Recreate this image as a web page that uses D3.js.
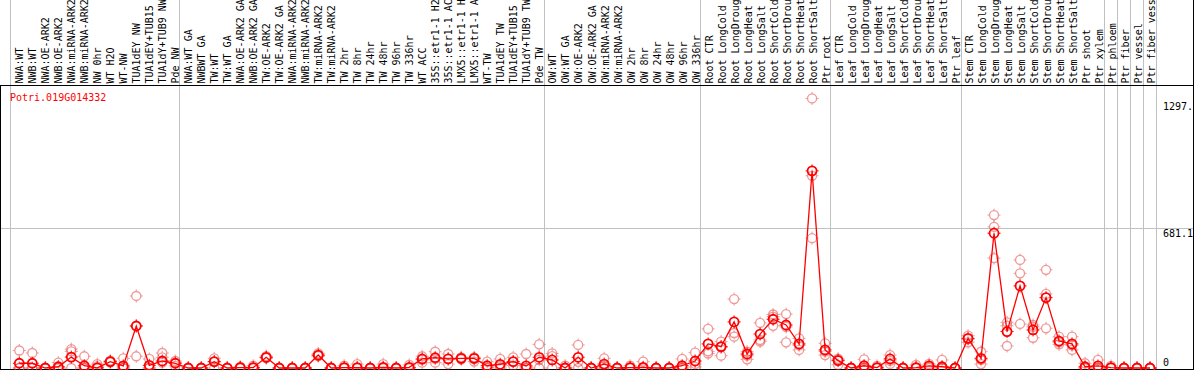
<!DOCTYPE html>
<html>
<head>
<meta charset="utf-8">
<script src="https://cdn.jsdelivr.net/npm/d3@7"></script>
<style>
body { margin: 0; background: #fff; }
svg { display: block; }
text { font-family: "DejaVu Sans Mono", monospace; font-size: 10px; }
</style>
</head>
<body>
<div id="chart"></div>
<script>
// sample labels, in column order
var labels = [
  "NWA:WT","NWB:WT","NWA:OE-ARK2","NWB:OE-ARK2","NWA:miRNA-ARK2","NWB:miRNA-ARK2","NW 0hr","WT H2O","WT-NW",
  "TUA1dEY NW","TUA1dEY+TUB15","TUA1dY+TUB9 NW","Pde NW",
  "NWA:WT GA","NWBWT GA","TW:WT","TW:WT GA","NWA:OE-ARK2 GA","NWB:OE-ARK2 GA","TW:OE-ARK2","TW:OE-ARK2 GA",
  "NWA:miRNA-ARK2","NWB:miRNA-ARK2","TW:miRNA-ARK2","TW:miRNA-ARK2","TW 2hr","TW 8hr","TW 24hr","TW 48hr",
  "TW 96hr","TW 336hr","WT ACC","35S::etr1-1 H2O","35S::etr1-1 ACC","LMX5::etr1-1 H2O","LMX5::etr1-1 ACC",
  "WT-TW","TUA1dEY TW","TUA1dEY+TUB15","TUA1dY+TUB9 TW","Pde TW",
  "OW:WT","OW:WT GA","OW:OE-ARK2","OW:OE-ARK2 GA","OW:miRNA-ARK2","OW:miRNA-ARK2","OW 2hr","OW 8hr","OW 24hr",
  "OW 48hr","OW 96hr","OW 336hr",
  "Root CTR","Root LongCold","Root LongDrought","Root LongHeat","Root LongSalt","Root ShortCold",
  "Root ShortDrought","Root ShortHeat","Root ShortSalt","Ptr root",
  "Leaf CTR","Leaf LongCold","Leaf LongDrought","Leaf LongHeat","Leaf LongSalt","Leaf ShortCold",
  "Leaf ShortDrought","Leaf ShortHeat","Leaf ShortSalt","Ptr leaf",
  "Stem CTR","Stem LongCold","Stem LongDrought","Stem LongHeat","Stem LongSalt","Stem ShortCold",
  "Stem ShortDrought","Stem ShortHeat","Stem ShortSalt","Ptr shoot","Ptr xylem",
  "Ptr phloem","Ptr fiber","Ptr vessel","Ptr fiber vessel"
];
// how many columns in each grid block
var groupSizes = [13, 28, 12, 10, 10, 11, 1, 1, 1, 1];

// mean per column
var means = [
  23,23,0,6,53,11,1,31,10,204,13,34,23,
  0,0,31,0,2,2,52,0,0,0,63,0,2,2,0,3,0,3,44,50,44,47,47,11,18,31,10,52,
  39,0,52,0,19,0,2,3,0,0,11,34,
  117,104,224,68,165,237,209,117,958,88,
  36,0,11,2,44,0,2,10,6,0,
  144,47,655,177,399,185,342,131,117,6,10,
  2,0,0,0
];
// replicates per column
var reps = [
  [85,0,0],[73,0,0],[0,0,0],[26,0,0],[92,81,0],[57,0,0],[19,8,0],[36,30,28],[47,0,0],[350,205,57],[44,0,0],[73,52,26],[34,25,10],
  [0,0,0],[0,0,0],[47,30,0],[0,0,0],[6,0,0],[11,0,0],[58,50,48],[0,0,0],[0,0,0],[0,0,0],[71,60,58],[0,0,0],[11,0,0],[19,0,0],[0,0,0],
  [19,0,0],[0,0,0],[15,0,0],[57,40,26],[79,45,26],[68,45,19],[52,47,42],[52,44,31],[31,2,0],[44,10,0],[52,30,12],[68,0,0],[115,40,0],
  [71,58,0],[11,0,0],[112,30,0],[0,0,0],[47,10,0],[0,0,0],[11,0,0],[31,0,0],[0,0,0],[0,0,0],[44,0,0],[75,20,5],
  [190,81,70],[128,100,60],[335,170,152],[79,60,42],[219,136,128],[260,250,205],[262,200,125],[144,110,88],[1310,934,631],[120,80,63],
  [45,40,15],[0,0,0],[42,0,0],[10,0,0],[63,35,20],[0,0,0],[15,0,0],[20,5,0],[39,0,0],[0,0,0],
  [157,140,125],[79,40,19],[743,686,534],[222,205,107],[525,460,214],[209,200,147],[477,360,193],[152,125,115],[152,110,88],[23,0,0],[39,0,0],
  [10,0,0],[0,0,0],[0,0,0],[0,0,0]
];
var yTicks = [0, 681.1, 1297.5];
var title = "Potri.019G014332";

var W = 1194, H = 370;
var svg = d3.select("#chart").append("svg")
    .attr("width", W).attr("height", H);

var idx = d3.range(labels.length);
// columns for labels / grid
var xb = d3.scaleBand().domain(idx).range([10, 1156]);
// point positions
var xp = d3.scalePoint().domain(idx).range([19.3, 1150]);
var y = d3.scaleLinear().domain([0, 1297.5]).range([368, 101]);

// group boundaries
var bounds = [0];
groupSizes.forEach(function(n){ bounds.push(bounds[bounds.length-1] + n); });
svg.append("g").selectAll("line")
    .data(bounds)
    .enter().append("line")
    .attr("x1", function(k){ return Math.round(k < labels.length ? xb(k) : xb.range()[1]) + 0.5; })
    .attr("x2", function(k){ return Math.round(k < labels.length ? xb(k) : xb.range()[1]) + 0.5; })
    .attr("y1", 0).attr("y2", H)
    .attr("stroke", "#c0c0c0");

// horizontal grid
svg.append("g").selectAll("line")
    .data(yTicks.filter(function(v){ return v > 0 && v < 1000; }))
    .enter().append("line")
    .attr("x1", 0).attr("x2", W)
    .attr("y1", function(v){ return Math.round(y(v)) + 0.5; })
    .attr("y2", function(v){ return Math.round(y(v)) + 0.5; })
    .attr("stroke", "#c0c0c0");

// frame
svg.append("line").attr("x1", 0).attr("x2", W).attr("y1", 85.5).attr("y2", 85.5).attr("stroke", "#000");
svg.append("line").attr("x1", 0.5).attr("x2", 0.5).attr("y1", 85).attr("y2", H).attr("stroke", "#000");
svg.append("line").attr("x1", W - 0.5).attr("x2", W - 0.5).attr("y1", 0).attr("y2", H).attr("stroke", "#000");
svg.append("line").attr("x1", 0).attr("x2", W).attr("y1", 369.5).attr("y2", 369.5).attr("stroke", "#000");

// vertical labels
svg.append("g").selectAll("text")
    .data(idx)
    .enter().append("text")
    .attr("transform", function(i){ return "translate(" + (xb(i) + 12.5) + ",83.5) rotate(-90)"; })
    .text(function(i){ return labels[i]; });

// title
svg.append("text").attr("x", 10).attr("y", 100.5).attr("fill", "red").text(title);

// right axis labels
svg.append("defs").append("clipPath").attr("id", "clipR")
    .append("rect").attr("x", 0).attr("y", 0).attr("width", W - 1).attr("height", H);
svg.append("g").attr("clip-path", "url(#clipR)").selectAll("text")
    .data(yTicks)
    .enter().append("text")
    .attr("x", 1163)
    .attr("y", function(v){ return v === 0 ? y(v) - 2.5 : y(v) + 9; })
    .text(function(v){ return v; });

// marker shape: ring with small spikes
function marker(g, col, sw) {
    g.append("circle").attr("r", 4.5).attr("fill", "none").attr("stroke", col).attr("stroke-width", sw);
    g.append("path").attr("d", "M0,-6.5V-4.5M0,4.5V6.5M-6.5,0H-4.5M4.5,0H6.5")
        .attr("stroke", col).attr("stroke-width", 1);
}

// replicates
var repData = [];
reps.forEach(function(r, i){ r.forEach(function(v){ repData.push({i: i, v: v}); }); });
svg.append("g").selectAll("g")
    .data(repData)
    .enter().append("g")
    .attr("transform", function(d){ return "translate(" + xp(d.i) + "," + y(d.v) + ")"; })
    .attr("opacity", 0.5)
    .each(function(){ marker(d3.select(this), "#e03030", 1.3); });

// mean line
svg.append("path")
    .datum(means)
    .attr("fill", "none")
    .attr("stroke", "red")
    .attr("stroke-width", 1.3)
    .attr("d", d3.line().x(function(d, i){ return xp(i); }).y(function(d){ return y(d); }));

// mean markers
svg.append("g").selectAll("g")
    .data(means)
    .enter().append("g")
    .attr("transform", function(d, i){ return "translate(" + xp(i) + "," + y(d) + ")"; })
    .each(function(){ marker(d3.select(this), "red", 1.8); });
</script>
</body>
</html>
